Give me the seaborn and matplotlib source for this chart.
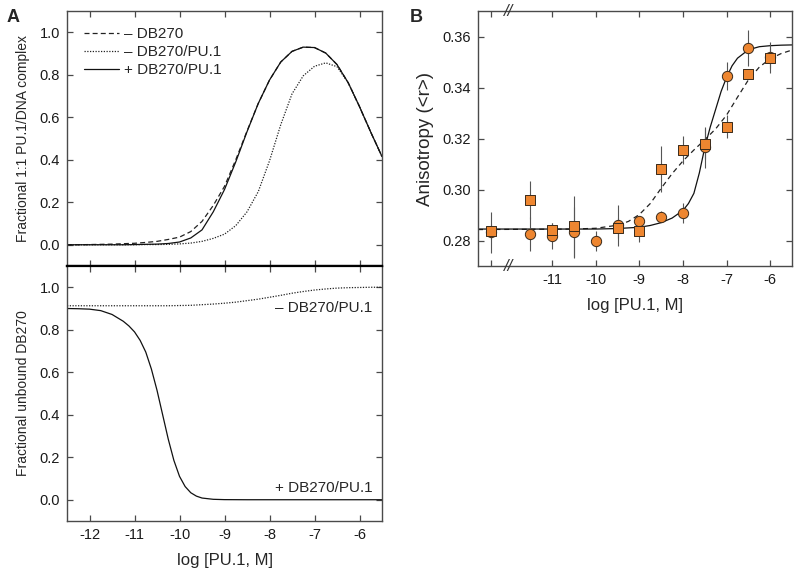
# Panel A: simulated PU.1/DNA complex and free DB270; Panel B: anisotropy titration

import matplotlib
matplotlib.use('Agg')
import matplotlib.pyplot as plt
import matplotlib.transforms as mtransforms
import seaborn as sns
import pandas as pd

# ---- Panel A ----
a_x = [-12.5, -12.25, -12.0, -11.75, -11.5, -11.25, -11.0, -10.75, -10.5, -10.25,
       -10.0, -9.75, -9.5, -9.25, -9.0, -8.75, -8.5, -8.25, -8.0, -7.75,
       -7.5, -7.25, -7.0, -6.75, -6.5, -6.25, -6.0, -5.75, -5.5]
complex_minus_db = [0, 0, 0.001, 0.002, 0.003, 0.005, 0.007, 0.011, 0.016, 0.025,
                    0.036, 0.062, 0.11, 0.185, 0.275, 0.4, 0.535, 0.665, 0.775, 0.86,
                    0.91, 0.93, 0.928, 0.902, 0.848, 0.762, 0.65, 0.53, 0.415]
complex_minus_db_pu1 = [0, 0, 0, 0, 0, 0, 0, 0.001, 0.001, 0.002,
                        0.004, 0.008, 0.016, 0.03, 0.05, 0.09, 0.155, 0.25, 0.395, 0.565,
                        0.71, 0.795, 0.84, 0.856, 0.838, 0.762, 0.65, 0.53, 0.415]
complex_plus_db_pu1 = [0, 0, 0, 0, 0, 0, 0.001, 0.002, 0.003, 0.006,
                       0.013, 0.032, 0.07, 0.155, 0.26, 0.39, 0.532, 0.665, 0.775, 0.86,
                       0.91, 0.93, 0.928, 0.902, 0.848, 0.762, 0.65, 0.53, 0.415]
unbound_minus = [0.913, 0.913, 0.913, 0.913, 0.913, 0.913, 0.913, 0.913, 0.913, 0.913,
                 0.914, 0.915, 0.918, 0.921, 0.925, 0.93, 0.937, 0.944, 0.953, 0.962,
                 0.972, 0.98, 0.987, 0.992, 0.996, 0.998, 0.999, 1.0, 1.0]
unbound_plus_x = [-12.5, -12.25, -12.0, -11.75, -11.5, -11.25, -11.125, -11.0, -10.875, -10.75,
                  -10.625, -10.5, -10.375, -10.25, -10.125, -10.0, -9.875, -9.75, -9.625, -9.5,
                  -9.25, -9.0, -8.5, -5.5]
unbound_plus = [0.90, 0.899, 0.897, 0.89, 0.872, 0.84, 0.818, 0.79, 0.75, 0.695,
                0.615, 0.515, 0.40, 0.285, 0.185, 0.11, 0.062, 0.033, 0.017, 0.008,
                0.002, 0.0005, 0, 0]

b_x = [-12.4, -11.5, -11.0, -10.5, -10.0, -9.5, -9.0, -8.5, -8.0, -7.5, -7.0, -6.5, -6.0]
circle_y = [0.2833, 0.2825, 0.2817, 0.2832, 0.2797, 0.2860, 0.2878, 0.2894, 0.2908,
            0.3166, 0.3446, 0.3556, 0.3518]
circle_err = [0.008, 0.0068, 0.005, 0.010, 0.004, 0.008, 0.002, 0.002, 0.004,
              0.008, 0.0055, 0.007, 0.006]
sq_x = [-12.4, -11.5, -11.0, -10.5, -9.5, -9.0, -8.5, -8.0, -7.5, -7.0, -6.5, -6.0]
square_y = [0.2836, 0.2960, 0.2840, 0.2855, 0.2850, 0.2836, 0.3080, 0.3156, 0.3179,
            0.3246, 0.3454, 0.3515]
square_err = [0.003, 0.0075, 0.003, 0.012, 0.004, 0.004, 0.009, 0.0055, 0.006,
              0.0045, 0.002, 0.004]
fit_solid_x = [-12.7, -10.0, -9.5, -9.0, -8.75, -8.5, -8.25, -8.0, -7.875, -7.75,
               -7.625, -7.5, -7.375, -7.25, -7.125, -7.0, -6.875, -6.75, -6.5, -6.25,
               -6.0, -5.75, -5.5]
fit_solid_y = [0.2845, 0.2845, 0.2847, 0.2852, 0.2859, 0.2870, 0.2888, 0.2918, 0.2945, 0.2985,
               0.3065, 0.3165, 0.3245, 0.3315, 0.3385, 0.3440, 0.3485, 0.3515, 0.3548, 0.3560,
               0.3564, 0.3566, 0.3567]
fit_dash_x = [-12.7, -10.5, -10.0, -9.5, -9.25, -9.0, -8.75, -8.5, -8.25, -8.0,
              -7.75, -7.5, -7.25, -7.0, -6.75, -6.5, -6.25, -6.0, -5.75, -5.5]
fit_dash_y = [0.2843, 0.2845, 0.2848, 0.2860, 0.2875, 0.2902, 0.2945, 0.3005, 0.3062, 0.3112,
              0.3155, 0.3195, 0.3238, 0.3292, 0.3362, 0.3430, 0.3480, 0.3513, 0.3533, 0.3547]

a_ticks = [-12, -11, -10, -9, -8, -7, -6]
b_ticks = [-12.4, -11, -10, -9, -8, -7, -6]
b_ticklabels = ['', '-11', '-10', '-9', '-8', '-7', '-6']

sns.set_theme(style='ticks')
plt.rcParams['font.family'] = ['Liberation Sans', 'DejaVu Sans']
plt.rcParams['axes.unicode_minus'] = False

SPINE = '#4a4a4a'
ORANGE = '#ee8630'


def style_axes(ax):
    for s in ax.spines.values():
        s.set_color(SPINE)
        s.set_linewidth(1.0)
        s.set_visible(True)
    ax.tick_params(direction='in', length=4, width=0.9, color=SPINE,
                   top=True, right=True, labelsize=10.5, pad=5, labelcolor='#1a1a1a')


fig = plt.figure(figsize=(7.96, 5.70), dpi=100)
ax_top = fig.add_axes([0.0842, 0.5333, 0.3957, 0.4474])
ax_bot = fig.add_axes([0.0842, 0.0860, 0.3957, 0.4473])
ax_b = fig.add_axes([0.6005, 0.5333, 0.3945, 0.4474])

# --- A top
df_top = pd.DataFrame({'x': a_x, 'm': complex_minus_db, 'mp': complex_minus_db_pu1,
                       'p': complex_plus_db_pu1})
sns.lineplot(data=df_top, x='x', y='m', ax=ax_top, color='#222222', lw=0.9,
             linestyle=(0, (4, 2.5)), label='\u2013 DB270')
sns.lineplot(data=df_top, x='x', y='mp', ax=ax_top, color='#222222', lw=0.9,
             linestyle=(0, (1, 1.2)), label='\u2013 DB270/PU.1')
sns.lineplot(data=df_top, x='x', y='p', ax=ax_top, color='#111111', lw=0.9,
             linestyle='-', label='+ DB270/PU.1')
ax_top.set_xlim(-12.5, -5.5)
ax_top.set_ylim(-0.1, 1.1)
ax_top.set_xticks(a_ticks)
ax_top.set_xticklabels([])
ax_top.set_yticks([0, 0.2, 0.4, 0.6, 0.8, 1.0])
ax_top.set_yticklabels(['0.0', '0.2', '0.4', '0.6', '0.8', '1.0'])
ax_top.set_xlabel('')
ax_top.set_ylabel('Fractional 1:1 PU.1/DNA complex', fontsize=10, labelpad=7)
style_axes(ax_top)
ax_top.spines['bottom'].set_color('black')
ax_top.spines['bottom'].set_linewidth(1.6)
ax_top.legend(loc='upper left', frameon=False, fontsize=11, handlelength=2.3,
              handletextpad=0.3, labelspacing=0.25, borderaxespad=0.5,
              bbox_to_anchor=(0.01, 0.99))

# --- A bottom
sns.lineplot(x=a_x, y=unbound_minus, ax=ax_bot, color='#222222', lw=0.9,
             linestyle=(0, (1, 1.2)))
sns.lineplot(x=unbound_plus_x, y=unbound_plus, ax=ax_bot, color='#111111', lw=0.9)
ax_bot.set_xlim(-12.5, -5.5)
ax_bot.set_ylim(-0.1, 1.1)
ax_bot.set_xticks(a_ticks)
ax_bot.set_xticklabels([str(t) for t in a_ticks])
ax_bot.set_yticks([0, 0.2, 0.4, 0.6, 0.8, 1.0])
ax_bot.set_yticklabels(['0.0', '0.2', '0.4', '0.6', '0.8', '1.0'])
ax_bot.set_xlabel('log [PU.1, M]', fontsize=12, labelpad=8)
ax_bot.set_ylabel('Fractional unbound DB270', fontsize=10, labelpad=7)
style_axes(ax_bot)
ax_bot.spines['top'].set_color('black')
ax_bot.spines['top'].set_linewidth(1.6)
ax_bot.text(0.97, 0.835, '\u2013 DB270/PU.1', transform=ax_bot.transAxes,
            ha='right', va='center', fontsize=11)
ax_bot.text(0.97, 0.13, '+ DB270/PU.1', transform=ax_bot.transAxes,
            ha='right', va='center', fontsize=11)

# --- B
sns.lineplot(x=fit_dash_x, y=fit_dash_y, ax=ax_b, color='#222222', lw=0.9,
             linestyle=(0, (4, 3)))
sns.lineplot(x=fit_solid_x, y=fit_solid_y, ax=ax_b, color='#111111', lw=0.9)
ax_b.errorbar(b_x, circle_y, yerr=circle_err, fmt='none', ecolor='#555555',
              elinewidth=0.8, capsize=0, zorder=3)
ax_b.errorbar(sq_x, square_y, yerr=square_err, fmt='none', ecolor='#555555',
              elinewidth=0.8, capsize=0, zorder=3)
sns.scatterplot(x=b_x, y=circle_y, ax=ax_b, marker='o', s=55, color=ORANGE,
                edgecolor='#3a2a1a', linewidth=0.7, zorder=4)
sns.scatterplot(x=sq_x, y=square_y, ax=ax_b, marker='s', s=42, color=ORANGE,
                edgecolor='#3a2a1a', linewidth=0.7, zorder=5)
ax_b.set_xlim(-12.7, -5.5)
ax_b.set_ylim(0.27, 0.37)
ax_b.set_xticks(b_ticks)
ax_b.set_xticklabels(b_ticklabels)
ax_b.set_yticks([0.28, 0.30, 0.32, 0.34, 0.36])
ax_b.set_yticklabels(['0.28', '0.30', '0.32', '0.34', '0.36'])
ax_b.set_xlabel('log [PU.1, M]', fontsize=12, labelpad=8)
ax_b.set_ylabel('Anisotropy (<r>)', fontsize=13.5, labelpad=6)
style_axes(ax_b)
brk = mtransforms.blended_transform_factory(ax_b.transData, ax_b.transAxes)
for yy in (0.0, 1.0):
    ax_b.text(-12.0, yy, '//', transform=brk, ha='center', va='center',
              fontsize=12, style='italic', color='#333333')

fig.text(0.008, 0.985, 'A', fontsize=13, fontweight='bold', va='top')
fig.text(0.515, 0.985, 'B', fontsize=13, fontweight='bold', va='top')

plt.savefig('out.png', dpi=100)
